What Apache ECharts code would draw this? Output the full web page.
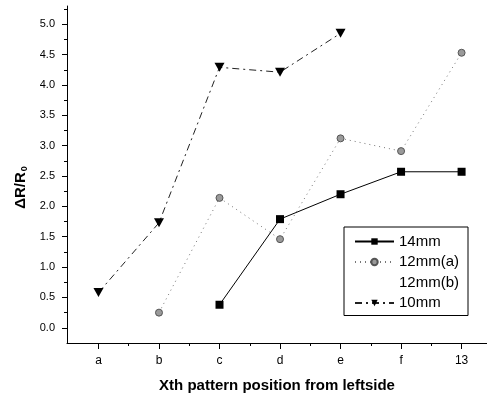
<!DOCTYPE html>
<html>
<head>
<meta charset="utf-8">
<script src="https://cdn.jsdelivr.net/npm/echarts@6/dist/echarts.min.js"></script>
<style>
html,body{margin:0;padding:0;background:#fff;}
#chart{width:487px;height:399px;}
</style>
</head>
<body>
<div id="chart"></div>
<script>
var categories = ['a', 'b', 'c', 'd', 'e', 'f', '13'];
var s14mm  = [null, null, 0.38, 1.79, 2.20, 2.57, 2.57];
var s12mmA = [null, 0.25, 2.14, 1.46, 3.12, 2.91, 4.53];
var s12mmB = [null, null, null, null, null, null, null];
var s10mm  = [0.58, 1.73, 4.29, 4.21, 4.85, null, null];
var yTickLabels = [0, 0.5, 1, 1.5, 2, 2.5, 3, 3.5, 4, 4.5, 5];
var yMinorTicks = [0.25, 0.75, 1.25, 1.75, 2.25, 2.75, 3.25, 3.75, 4.25, 4.75, 5.25];

function pairs(arr) {
  var out = [];
  for (var i = 0; i < arr.length; i++) {
    if (arr[i] !== null) out.push([i, arr[i]]);
  }
  return out;
}
var catIdx = categories.map(function (c, i) { return i; });
var catMinor = categories.slice(0, -1).map(function (c, i) { return i + 0.5; });

var FONT = 'Liberation Sans';
var chart = echarts.init(document.getElementById('chart'), null, {renderer: 'canvas'});
chart.setOption({
  animation: false,
  backgroundColor: '#ffffff',
  textStyle: {fontFamily: FONT},
  grid: {left: 67, right: 0, top: 6, bottom: 56},
  xAxis: [{
    type: 'value', min: -0.52, max: 6.42,
    axisLine: {show: true, onZero: false, lineStyle: {color: '#000', width: 1}},
    splitLine: {show: false},
    axisTick: {show: true, length: 6, customValues: catIdx, lineStyle: {color: '#000'}},
    axisLabel: {customValues: catIdx, color: '#000', fontSize: 12, fontFamily: FONT, margin: 12,
      formatter: function (v) { return categories[Math.round(v)]; }},
    name: 'Xth pattern position from leftside',
    nameLocation: 'middle', nameGap: 35,
    nameTextStyle: {color: '#000', fontSize: 15, fontWeight: 'bold', fontFamily: FONT}
  }, {
    type: 'value', min: -0.52, max: 6.42, position: 'bottom',
    axisLine: {show: false, onZero: false}, splitLine: {show: false},
    axisTick: {show: true, length: 3, customValues: catMinor, lineStyle: {color: '#000'}},
    axisLabel: {show: false}
  }],
  yAxis: [{
    type: 'value', min: -0.25, max: 5.3,
    axisLine: {show: true, onZero: false, lineStyle: {color: '#000', width: 1}},
    splitLine: {show: false},
    axisTick: {show: true, length: 5, customValues: yTickLabels, lineStyle: {color: '#000'}},
    axisLabel: {customValues: yTickLabels, color: '#000', fontSize: 11, fontFamily: FONT, margin: 12,
      formatter: function (v) { return v.toFixed(1); }},
    name: '{a|ΔR/R}{b|0}',
    nameLocation: 'middle', nameGap: 34, nameRotate: 90,
    nameTextStyle: {
      color: '#000', fontFamily: FONT, padding: [0, 26, 0, 0],
      rich: {
        a: {fontSize: 15, fontWeight: 'bold', fontFamily: FONT, color: '#000'},
        b: {fontSize: 9, fontWeight: 'bold', fontFamily: FONT, color: '#000', verticalAlign: 'bottom', padding: [7, 0, 0, 1]}
      }
    }
  }, {
    type: 'value', min: -0.25, max: 5.3, position: 'left',
    axisLine: {show: false, onZero: false}, splitLine: {show: false},
    axisTick: {show: true, length: 3, customValues: yMinorTicks, lineStyle: {color: '#000'}},
    axisLabel: {show: false}
  }],
  legend: {
    left: 344, top: 227, orient: 'vertical',
    backgroundColor: '#fff', borderColor: '#000', borderWidth: 1,
    padding: [7, 9, 5, 10],
    itemWidth: 39, itemHeight: 8, itemGap: 5.5,
    textStyle: {color: '#000', fontSize: 15, fontFamily: FONT, lineHeight: 15},
    data: [
      '14mm',
      '12mm(a)',
      {name: '12mm(b)', icon: 'circle', itemStyle: {color: 'rgba(0,0,0,0)'}},
      '10mm'
    ]
  },
  series: [{
    name: '14mm', type: 'line', xAxisIndex: 0, yAxisIndex: 0,
    data: pairs(s14mm),
    symbol: 'rect', symbolSize: 8,
    itemStyle: {color: '#000'},
    lineStyle: {color: '#000', width: 1, type: 'solid'}
  }, {
    name: '12mm(a)', type: 'line', xAxisIndex: 0, yAxisIndex: 0,
    data: pairs(s12mmA),
    symbol: 'circle', symbolSize: 7,
    itemStyle: {color: '#9a9a9a', borderColor: '#555', borderWidth: 1},
    lineStyle: {color: '#777', width: 1, type: [1, 4]}
  }, {
    name: '12mm(b)', type: 'line', xAxisIndex: 0, yAxisIndex: 0,
    data: pairs(s12mmB),
    symbol: 'none',
    itemStyle: {color: '#bbb'},
    lineStyle: {color: '#ccc', width: 1, type: [1, 12]}
  }, {
    name: '10mm', type: 'line', xAxisIndex: 0, yAxisIndex: 0,
    data: pairs(s10mm),
    symbol: 'triangle', symbolRotate: 180, symbolSize: [10, 9],
    itemStyle: {color: '#000'},
    lineStyle: {color: '#222', width: 1, type: [7, 4, 2, 4]}
  }]
});
</script>
</body>
</html>
